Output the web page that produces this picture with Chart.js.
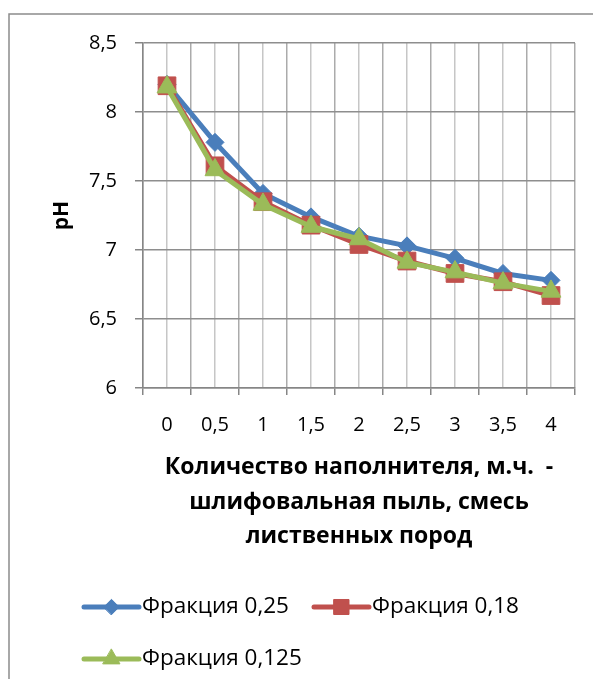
<!DOCTYPE html>
<html>
<head>
<meta charset="utf-8">
<script src="https://cdn.jsdelivr.net/npm/chart.js@4/dist/chart.umd.min.js"></script>
<style>
html,body{margin:0;padding:0;background:#fff;}
#wrap{position:absolute;left:0;top:0;width:593px;height:679px;}
</style>
</head>
<body>
<div id="wrap"><canvas id="c" width="593" height="679"></canvas></div>
<script>
// ---- data ----
const categories = ["0", "0,5", "1", "1,5", "2", "2,5", "3", "3,5", "4"];
const seriesNames = ["Фракция 0,25", "Фракция 0,18", "Фракция 0,125"];
const frac025 = [8.20, 7.78, 7.41, 7.24, 7.10, 7.03, 6.94, 6.83, 6.78];
const frac018 = [8.19, 7.61, 7.35, 7.18, 7.04, 6.92, 6.83, 6.77, 6.67];
const frac0125 = [8.18, 7.58, 7.33, 7.17, 7.08, 6.91, 6.84, 6.76, 6.70];
const yTicks = ["6", "6,5", "7", "7,5", "8", "8,5"];
const xTitle = ["Количество наполнителя, м.ч.  -", "шлифовальная пыль, смесь", "лиственных пород"];
const yTitle = "pH";

const FONT = "'Open Sans', 'Noto Sans', sans-serif";
const colors = ["#4a7ebb", "#c0504d", "#9bbb59"];
const pstyles = ["rectRot", "rect", "triangle"];
const pradius = [9, 12.5, 11.5];
const values = [frac025, frac018, frac0125];

function toPoints(arr){ return arr.map((v,i)=>({x:i, y:v})); }

const datasets = values.map((arr, k) => ({
  label: seriesNames[k],
  data: toPoints(arr),
  borderColor: colors[k],
  backgroundColor: colors[k],
  borderWidth: 5,
  pointStyle: pstyles[k],
  pointRadius: pradius[k],
  pointHoverRadius: pradius[k],
  pointBackgroundColor: colors[k],
  pointBorderColor: colors[k],
  pointBorderWidth: 1,
  tension: 0,
  order: 3 - k
}));

const framePlugin = {
  id: 'frame',
  beforeDraw(chart){
    const ctx = chart.ctx;
    ctx.save();
    ctx.fillStyle = '#fff';
    ctx.fillRect(0,0,chart.width,chart.height);
    ctx.strokeStyle = '#8c8c8c';
    ctx.lineWidth = 1.5;
    ctx.beginPath();
    ctx.moveTo(9, chart.height);
    ctx.lineTo(9, 14);
    ctx.lineTo(chart.width, 14);
    ctx.stroke();
    ctx.restore();
  }
};

const legendPlugin = {
  id: 'customLegend',
  afterDraw(chart){
    const ctx = chart.ctx;
    const items = [
      {k:0, x:84, y:607},
      {k:1, x:314, y:607},
      {k:2, x:84, y:659}
    ];
    ctx.save();
    items.forEach(it => {
      const ds = chart.data.datasets[it.k];
      ctx.strokeStyle = ds.borderColor;
      ctx.lineWidth = 5;
      ctx.lineCap = 'round';
      ctx.beginPath();
      ctx.moveTo(it.x, it.y);
      ctx.lineTo(it.x + 55, it.y);
      ctx.stroke();
      ctx.fillStyle = ds.backgroundColor;
      ctx.strokeStyle = ds.borderColor;
      ctx.lineWidth = 1;
      Chart.helpers.drawPoint(ctx, {pointStyle: ds.pointStyle, radius: ds.pointRadius * 0.85, borderWidth: 1, rotation: 0}, it.x + 27.5, it.y);
      ctx.fillStyle = '#000';
      ctx.font = "22.5px " + FONT;
      ctx.textBaseline = 'middle';
      ctx.textAlign = 'left';
      ctx.fillText(ds.label, it.x + 58, it.y);
    });
    ctx.restore();
  }
};

const chart = new Chart(document.getElementById('c'), {
  type: 'line',
  data: { datasets },
  options: {
    responsive: false,
    devicePixelRatio: 1,
    animation: false,
    events: [],
    layout: { padding: { left: 40, right: 17, top: 43, bottom: 119 } },
    plugins: { legend: { display: false }, tooltip: { enabled: false } },
    scales: {
      x: {
        type: 'linear',
        min: -0.5,
        max: 8.5,
        afterFit(s){ s.height = 172; },
        afterBuildTicks(s){
          const t = [];
          for (let i = -1; i <= categories.length * 2 - 1; i++) t.push({value: i / 2});
          s.ticks = t;
        },
        ticks: {
          autoSkip: false,
          maxRotation: 0,
          padding: 18,
          color: '#000',
          font: { family: FONT, size: 20 },
          callback(v){ return Number.isInteger(v) ? categories[v] : ''; }
        },
        grid: {
          color: ctx => (ctx.tick && Number.isInteger(ctx.tick.value)) ? '#c6c6c6' : '#ababab',
          lineWidth: 1.5,
          tickLength: 7,
          tickColor: ctx => (ctx.tick && Number.isInteger(ctx.tick.value)) ? 'rgba(0,0,0,0)' : '#868686'
        },
        border: { color: '#868686', width: 1.5 },
        title: {
          display: true,
          text: xTitle,
          color: '#000',
          font: { family: FONT, size: 23, weight: 'bold', lineHeight: 1.5 },
          padding: { top: 0, bottom: 6 }
        }
      },
      y: {
        min: 6,
        max: 8.5,
        afterFit(s){ s.width = 103; },
        afterBuildTicks(s){
          s.ticks = yTicks.map((lab, i) => ({value: 6 + i * 0.5}));
        },
        ticks: {
          padding: 18,
          color: '#000',
          font: { family: FONT, size: 20 },
          callback(v, i){ return yTicks[i]; }
        },
        grid: { color: '#8e8e8e', lineWidth: 1.5, tickLength: 8, tickColor: '#868686' },
        border: { color: '#868686', width: 1.5 },
        title: {
          display: true,
          text: yTitle,
          color: '#000',
          font: { family: FONT, size: 21, weight: 'bold', lineHeight: 1.2 },
          padding: { top: 9, bottom: 0 }
        }
      }
    }
  },
  plugins: [framePlugin, legendPlugin]
});
</script>
</body>
</html>
